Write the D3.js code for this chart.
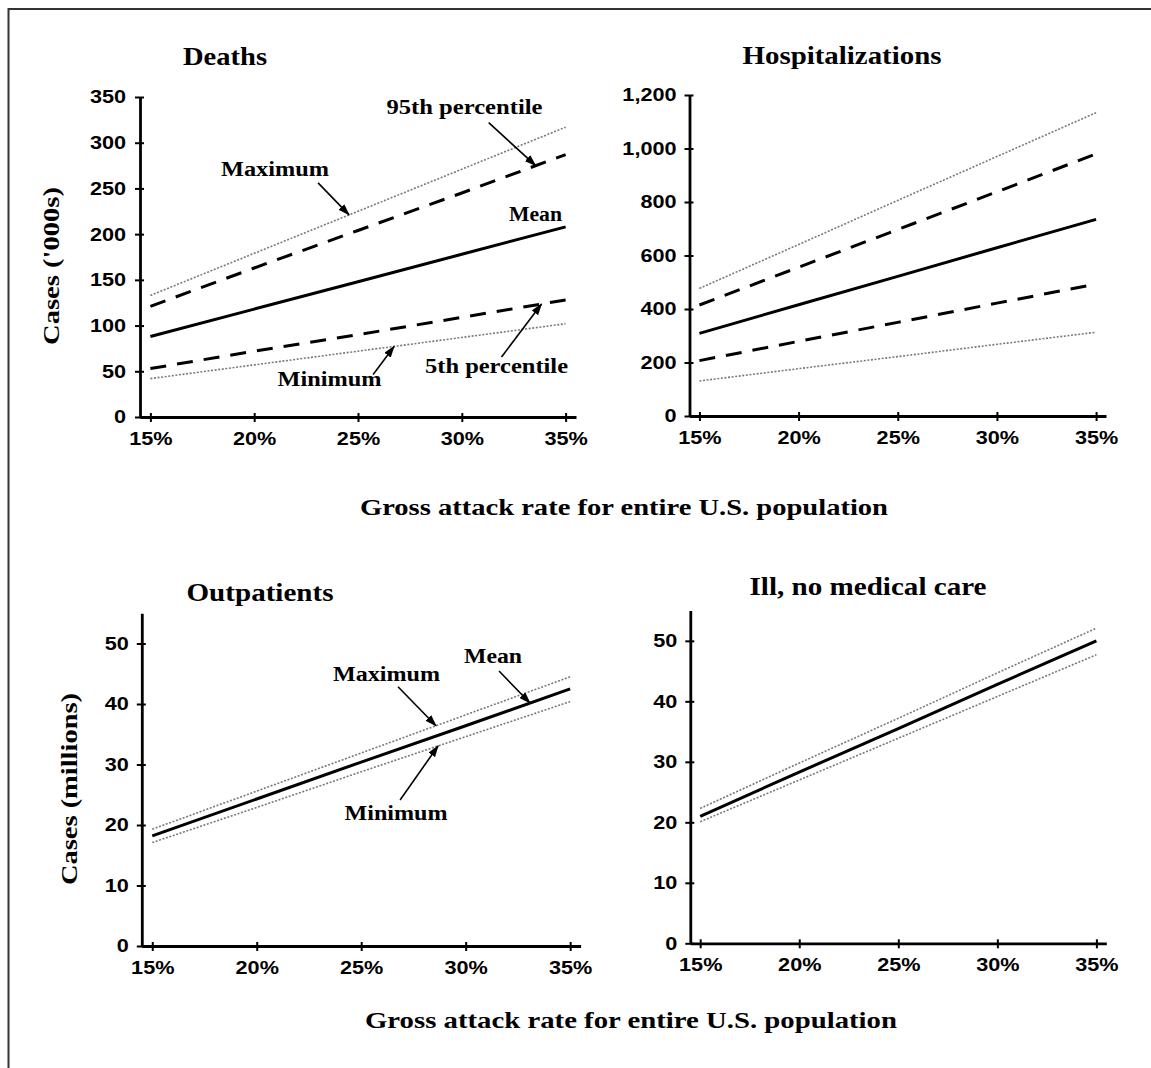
<!DOCTYPE html>
<html>
<head>
<meta charset="utf-8">
<script src="https://cdn.jsdelivr.net/npm/d3@7"></script>
<style>
  html, body { margin: 0; padding: 0; background: #fff; }
  svg { display: block; }
</style>
</head>
<body>
<svg id="chart" width="1151" height="1068"></svg>
<script>
// ---------------- DATA ----------------
const attackRates = [15, 20, 25, 30, 35];
const xTickLabels = ["15%", "20%", "25%", "30%", "35%"];

// Deaths ('000s)
const deathsMax  = [133, 179, 225, 271, 317];
const deathsP95  = [121, 163, 204, 245, 287];
const deathsMean = [88, 118, 148, 178, 208];
const deathsP5   = [53, 72, 90, 109, 128];
const deathsMin  = [42, 57, 72, 87, 102];
const deathsTicks = [0, 50, 100, 150, 200, 250, 300, 350];

// Hospitalizations ('000s)
const hospMax  = [477, 641, 806, 970, 1134];
const hospP95  = [415, 556, 697, 838, 980];
const hospMean = [309, 416, 522, 629, 735];
const hospP5   = [207, 279, 350, 422, 493];
const hospMin  = [131, 177, 222, 268, 313];
const hospTicks = [0, 200, 400, 600, 800, 1000, 1200];

// Outpatients (millions)
const outMax  = [19.3, 25.6, 31.9, 38.2, 44.5];
const outMean = [18.2, 24.3, 30.4, 36.4, 42.5];
const outMin  = [17.1, 22.9, 28.8, 34.6, 40.4];

// Ill, no medical care (millions)
const illMax  = [22.3, 29.8, 37.2, 44.7, 52.1];
const illMean = [21.0, 28.3, 35.5, 42.8, 50.0];
const illMin  = [20.1, 27.0, 33.9, 40.8, 47.7];
const millionTicks = [0, 10, 20, 30, 40, 50];

const xTitle = "Gross attack rate for entire U.S. population";

// ---------------- STYLE / LAYOUT ----------------
const SERIF = "'Liberation Serif', 'Times New Roman', serif";
const SANS = "'Liberation Sans', Arial, sans-serif";
const styles = {
  mean: { stroke: "#000", width: 3, dash: null },
  pct:  { stroke: "#000", width: 3, dash: "16,11" },
  ext:  { stroke: "#7a7a7a", width: 1.6, dash: "2,1.6" }
};

const svg = d3.select("#chart");

// frame
svg.append("path")
  .attr("d", "M8.5,1068 V9 H1151")
  .attr("fill", "none").attr("stroke", "#333").attr("stroke-width", 2);

// arrow marker
svg.append("defs").append("marker")
  .attr("id", "arrow").attr("markerUnits", "userSpaceOnUse")
  .attr("markerWidth", 12).attr("markerHeight", 8)
  .attr("refX", 11).attr("refY", 4).attr("orient", "auto")
  .append("path").attr("d", "M0,0 L12,4 L0,8 Z").attr("fill", "#000");

function label(g, str, x, y, o) {
  const t = g.append("text")
    .attr("x", x).attr("y", y)
    .attr("font-family", o.family || SERIF)
    .attr("font-weight", "bold")
    .attr("font-size", o.size)
    .attr("text-anchor", o.anchor || "start")
    .attr("fill", "#000")
    .text(str);
  if (o.len) t.attr("textLength", o.len).attr("lengthAdjust", "spacingAndGlyphs");
  if (o.rotate) t.attr("transform", `rotate(${o.rotate},${x},${y})`);
  return t;
}

function stretch(sel, f) {
  sel.each(function () {
    const w = this.getComputedTextLength();
    d3.select(this).attr("textLength", w * f).attr("lengthAdjust", "spacingAndGlyphs");
  });
}

const panels = [
  {
    title: "Deaths", titleX: 225, titleY: 65, titleLen: 84,
    xr: [140, 576], yr: [417, 97], yMax: 350, ticks: deathsTicks, labelGap: 14,
    series: [
      { v: deathsMax, s: "ext", name: "max" }, { v: deathsP95, s: "pct", name: "p95" },
      { v: deathsMean, s: "mean", name: "mean" }, { v: deathsP5, s: "pct", name: "p5" },
      { v: deathsMin, s: "ext", name: "min" }
    ],
    notes: [
      { text: "95th percentile", x: 386.5, y: 114, len: 156, series: "p95", at: 33.56, off: [-47, -43] },
      { text: "Maximum", x: 221, y: 176, len: 108, series: "max", at: 24.57, off: [-31, -32] },
      { text: "Mean", x: 509, y: 221, len: 53 },
      { text: "Minimum", x: 277.5, y: 386, len: 104, series: "min", at: 26.74, off: [-21, 28] },
      { text: "5th percentile", x: 425, y: 373, len: 143, series: "p5", at: 33.84, off: [-40, 53] }
    ]
  },
  {
    title: "Hospitalizations", titleX: 842, titleY: 64, titleLen: 199,
    xr: [689.5, 1106], yr: [416, 95], yMax: 1200, ticks: hospTicks, labelGap: 13,
    series: [
      { v: hospMax, s: "ext" }, { v: hospP95, s: "pct" }, { v: hospMean, s: "mean" },
      { v: hospP5, s: "pct" }, { v: hospMin, s: "ext" }
    ],
    notes: []
  },
  {
    title: "Outpatients", titleX: 260, titleY: 601, titleLen: 147,
    xr: [141.8, 580.6], yr: [946, 613.25], yMax: 55, ticks: millionTicks, labelGap: 13,
    series: [
      { v: outMax, s: "ext", name: "max" }, { v: outMean, s: "mean", name: "mean" },
      { v: outMin, s: "ext", name: "min" }
    ],
    notes: [
      { text: "Maximum", x: 333, y: 681, len: 107, series: "max", at: 28.58, off: [-38, -39] },
      { text: "Mean", x: 464, y: 663, len: 58, series: "mean", at: 33.08, off: [-31, -32] },
      { text: "Minimum", x: 344.5, y: 820, len: 103, series: "min", at: 28.68, off: [-38, 54] }
    ]
  },
  {
    title: "Ill, no medical care", titleX: 868, titleY: 595, titleLen: 237,
    xr: [690.3, 1106.3], yr: [943.3, 610.6], yMax: 55, ticks: millionTicks, labelGap: 13,
    series: [
      { v: illMax, s: "ext" }, { v: illMean, s: "mean" }, { v: illMin, s: "ext" }
    ],
    notes: []
  }
];

panels.forEach(p => {
  const g = svg.append("g");
  const x = d3.scaleLinear().domain([14.5, 35.5]).range(p.xr);
  const y = d3.scaleLinear().domain([0, p.yMax]).range(p.yr);

  // lines
  const line = d3.line().x((d, i) => x(attackRates[i])).y(d => y(d));
  p.series.forEach(s => {
    const st = styles[s.s];
    const path = g.append("path").datum(s.v)
      .attr("d", line).attr("fill", "none")
      .attr("stroke", st.stroke).attr("stroke-width", st.width);
    if (st.dash) path.attr("stroke-dasharray", st.dash);
  });

  // y axis
  const ya = g.append("g").attr("transform", `translate(${p.xr[0]},0)`)
    .call(d3.axisLeft(y).tickValues(p.ticks).tickFormat(d3.format(","))
      .tickSizeInner(5).tickSizeOuter(0).tickPadding(p.labelGap - 5));
  ya.select(".domain").attr("stroke-width", 2.8);
  ya.selectAll(".tick line").attr("x1", 4).attr("x2", -5).attr("stroke-width", 2);
  ya.selectAll(".tick text").attr("font-family", SANS).attr("font-weight", "bold")
    .attr("font-size", 18.5).attr("fill", "#000");
  stretch(ya.selectAll(".tick text"), 1.17);

  // x axis
  const xa = g.append("g").attr("transform", `translate(0,${p.yr[0]})`)
    .call(d3.axisBottom(x).tickValues(attackRates).tickFormat((d, i) => xTickLabels[i])
      .tickSizeInner(5).tickSizeOuter(0));
  xa.select(".domain").attr("stroke-width", 2.8);
  xa.selectAll(".tick line").attr("y1", -4).attr("y2", 5).attr("stroke-width", 2);
  xa.selectAll(".tick text").attr("y", 28).attr("dy", 0)
    .attr("font-family", SANS).attr("font-weight", "bold")
    .attr("font-size", 18.5).attr("fill", "#000");
  stretch(xa.selectAll(".tick text"), 1.17);

  // title
  label(g, p.title, p.titleX, p.titleY, { size: 25, anchor: "middle", len: p.titleLen });

  // annotations
  p.notes.forEach(n => {
    label(g, n.text, n.x, n.y, { size: 20.5, len: n.len });
    if (n.series) {
      const s = p.series.find(d => d.name === n.series);
      const interp = d3.scaleLinear().domain(attackRates).range(s.v);
      const tx = x(n.at), ty = y(interp(n.at));
      g.append("line")
        .attr("x1", tx + n.off[0]).attr("y1", ty + n.off[1])
        .attr("x2", tx).attr("y2", ty)
        .attr("stroke", "#000").attr("stroke-width", 1.6)
        .attr("marker-end", "url(#arrow)");
    }
  });
});

// axis titles
label(svg, xTitle, 624, 515, { size: 23.5, anchor: "middle", len: 528 });
label(svg, xTitle, 631, 1028, { size: 23.5, anchor: "middle", len: 532 });
label(svg, "Cases ('000s)", 59, 266, { size: 23.5, anchor: "middle", len: 158, rotate: -90 });
label(svg, "Cases (millions)", 77, 789, { size: 23.5, anchor: "middle", len: 192, rotate: -90 });
</script>
</body>
</html>
